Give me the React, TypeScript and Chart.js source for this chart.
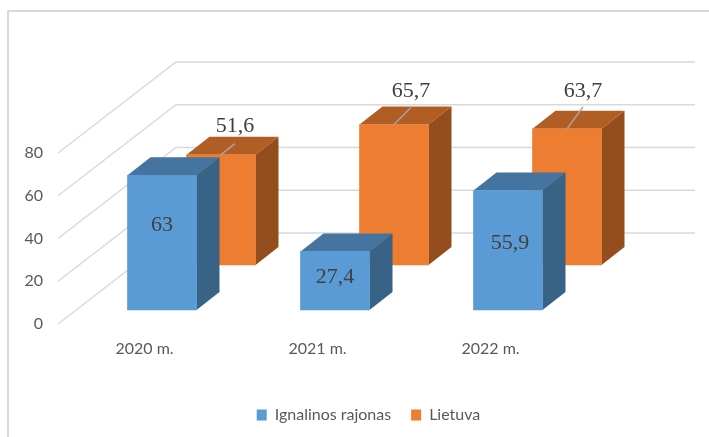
import React, { useEffect, useRef } from "react";
import { Chart, registerables } from "chart.js";

Chart.register(...registerables);

const years = ["2020 m.", "2021 m.", "2022 m."];
const ignalina = [63, 27.4, 55.9];
const lietuva = [51.6, 65.7, 63.7];
const yTicks = [0, 20, 40, 60, 80];

const SANS = "Lato, 'Noto Sans', sans-serif";
const GRID = "#d9d9d9";
const WALL = { dx: 118, dy: -91, right: 695 };
const BOX = { dx: 23, dy: -18 };
// where each series stands inside the floor's depth
const seriesDepth = [
  { dx: 17.5, dy: -14, top: "#44749f", side: "#386286" },
  { dx: 76.5, dy: -59, top: "#b15e24", side: "#944e1e" },
];
// label placement relative to the centre of the bar's front top edge
const frontLabelOffset = [[0, 50], [0, 26], [2, 53]];
const backLabelOffset = [[14, -28], [17, -33], [16, -38]];
const backLeaderEnd = [[14, -11], [17, -17], [16, -22]];

const fmt = (v: number) => String(v).replace(".", ",");

const view3d = {
  id: "view3d",
  beforeDraw(chart: any) {
    const { ctx, scales } = chart;
    const y = scales.y;
    const { left } = chart.chartArea;
    ctx.save();
    ctx.strokeStyle = GRID;
    ctx.lineWidth = 2;
    ctx.beginPath();
    ctx.moveTo(8, 437);
    ctx.lineTo(8, 11);
    ctx.lineTo(709, 11);
    ctx.stroke();
    ctx.lineWidth = 1.5;
    yTicks.forEach((t) => {
      const py = y.getPixelForValue(t);
      ctx.beginPath();
      ctx.moveTo(left, py);
      ctx.lineTo(left + WALL.dx, py + WALL.dy);
      ctx.lineTo(WALL.right, py + WALL.dy);
      ctx.stroke();
    });
    ctx.restore();
  },
  beforeDatasetDraw(chart: any, args: any) {
    const { ctx } = chart;
    const d = seriesDepth[args.index];
    ctx.save();
    ctx.translate(d.dx, d.dy);
    args.meta.data.forEach((bar: any) => {
      const l = bar.x - bar.width / 2;
      const r = bar.x + bar.width / 2;
      ctx.fillStyle = d.top;
      ctx.beginPath();
      ctx.moveTo(l, bar.y);
      ctx.lineTo(l + BOX.dx, bar.y + BOX.dy);
      ctx.lineTo(r + BOX.dx, bar.y + BOX.dy);
      ctx.lineTo(r, bar.y);
      ctx.closePath();
      ctx.fill();
      ctx.fillStyle = d.side;
      ctx.beginPath();
      ctx.moveTo(r, bar.y);
      ctx.lineTo(r + BOX.dx, bar.y + BOX.dy);
      ctx.lineTo(r + BOX.dx, bar.base + BOX.dy);
      ctx.lineTo(r, bar.base);
      ctx.closePath();
      ctx.fill();
    });
  },
  afterDatasetDraw(chart: any) {
    chart.ctx.restore();
  },
  afterDatasetsDraw(chart: any) {
    const { ctx } = chart;
    ctx.save();
    ctx.font = "22px 'Liberation Serif', serif";
    ctx.fillStyle = "#404040";
    ctx.textAlign = "center";
    ctx.textBaseline = "middle";
    chart.getDatasetMeta(1).data.forEach((bar: any, i: number) => {
      const x = bar.x + seriesDepth[1].dx;
      const y = bar.y + seriesDepth[1].dy;
      ctx.strokeStyle = "#a6a6a6";
      ctx.lineWidth = 1.5;
      ctx.beginPath();
      ctx.moveTo(x, y);
      ctx.lineTo(x + backLeaderEnd[i][0], y + backLeaderEnd[i][1]);
      ctx.stroke();
      ctx.fillText(fmt(lietuva[i]), x + backLabelOffset[i][0], y + backLabelOffset[i][1]);
    });
    chart.getDatasetMeta(0).data.forEach((bar: any, i: number) => {
      const x = bar.x + seriesDepth[0].dx;
      const y = bar.y + seriesDepth[0].dy;
      ctx.fillText(fmt(ignalina[i]), x + frontLabelOffset[i][0], y + frontLabelOffset[i][1]);
    });
    ctx.restore();
  },
};

export default function App() {
  const ref = useRef<HTMLCanvasElement>(null);
  useEffect(() => {
    const chart = new Chart(ref.current as HTMLCanvasElement, {
      type: "bar",
      plugins: [view3d],
      data: {
        labels: years,
        datasets: [
          { label: "Ignalinos rajonas", data: ignalina, backgroundColor: "#5b9bd5", clip: false },
          { label: "Lietuva", data: lietuva, backgroundColor: "#ed7d31", clip: false },
        ],
      } as any,
      options: {
        responsive: false,
        animation: false,
        layout: { padding: { top: 153, left: 20, right: -8, bottom: 4 } },
        datasets: { bar: { barThickness: 69, grouped: false } },
        plugins: {
          tooltip: { enabled: false },
          legend: {
            position: "bottom",
            labels: {
              boxWidth: 10,
              boxHeight: 11,
              padding: 20,
              color: "#595959",
              font: { family: SANS, size: 16 },
            },
          },
        },
        scales: {
          x: {
            grid: { display: false },
            border: { display: false },
            ticks: { color: "#595959", font: { family: SANS, size: 16 }, padding: 7, maxRotation: 0 },
            afterFit: (s: any) => {
              s.height = 113 - 4 - (s.chart.legend?.height ?? 55);
            },
          },
          y: {
            min: 0,
            max: 80,
            grid: { display: false },
            border: { display: false },
            ticks: { stepSize: 20, color: "#595959", font: { family: SANS, size: 16 }, padding: 7 },
            afterFit: (s: any) => {
              s.width = 38;
            },
          },
          y2: {
            position: "right",
            grid: { display: false },
            border: { display: false },
            ticks: { display: false },
            afterFit: (s: any) => {
              s.width = 140;
            },
          },
        },
      } as any,
    });
    return () => chart.destroy();
  }, []);
  return (
    <div style={{ position: "absolute", left: 0, top: 0, width: 709, height: 437 }}>
      <canvas ref={ref} width={709} height={437} style={{ display: "block" }} />
    </div>
  );
}
